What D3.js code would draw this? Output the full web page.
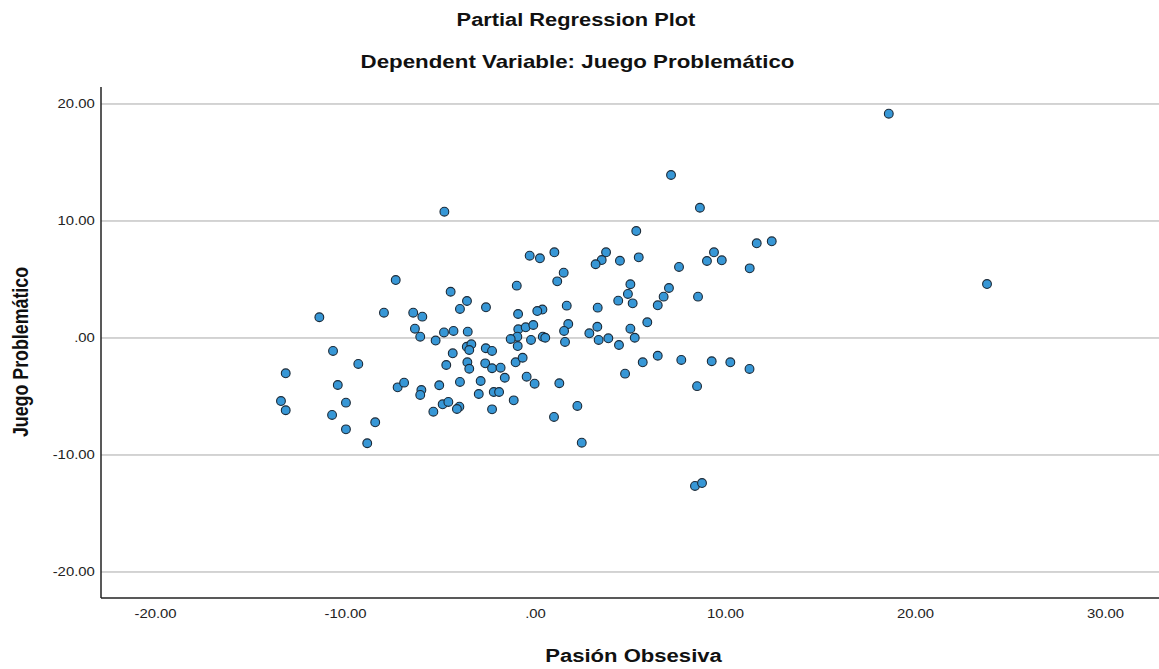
<!DOCTYPE html>
<html><head><meta charset="utf-8">
<script src="https://cdn.jsdelivr.net/npm/d3@7/dist/d3.min.js"></script>
<style>body{margin:0;background:#fff;overflow:hidden}</style>
</head><body>
<svg id="chart" width="1159" height="669"></svg>
<script>
const title = "Partial Regression Plot";
const subtitle = "Dependent Variable: Juego Problemático";
const xLabel = "Pasión Obsesiva";
const yLabel = "Juego Problemático";

const pasionObsesiva = [
 18.62, 23.79, 7.16, 8.68, -4.77, 5.33, 11.67, 12.46, 9.42, 9.05,
 9.83, 7.58, 11.30, 3.74, 3.51, 3.19, 4.47, 5.46, -0.28, 0.26,
 1.02, 1.51, 1.17, 5.02, 4.89, 4.38, 5.14, 7.05, 6.77, 6.46,
 8.58, 1.67, 3.30, 5.91, 1.75, 1.53, 3.28, 2.86, 3.35, 3.86,
 5.02, 5.25, 4.42, 1.58, 6.46, 5.67, 7.70, 9.30, 10.28, 11.29,
 4.74, 8.53, 1.28, 2.23, 2.46, 1.00, 8.42, 8.79, 0.39, 0.12,
 -0.96, -4.44, -7.33, -3.58, -3.95, -2.58, -0.89, -7.95, -6.41, -5.93,
 -11.35, -6.32, -6.04, -5.23, -4.79, -4.29, -3.54, -0.88, -0.49, -0.09,
 -0.93, -1.28, -0.21, 0.41, 0.54, -0.91, -3.59, -3.35, -3.46, -2.59,
 -2.26, -4.33, -10.63, -9.30, -4.67, -3.56, -3.46, -2.62, -2.26, -1.81,
 -1.02, -0.65, -13.12, -1.59, -0.44, -0.02, -3.95, -2.86, -5.04, -10.38,
 -7.23, -6.89, -5.98, -6.04, -2.96, -2.17, -1.89, -13.37, -13.12, -9.95,
 -10.68, -4.86, -4.56, -5.35, -3.98, -4.11, -1.12, -2.26, -8.41, -9.95,
 -8.83
];
const juegoProblematico = [
 19.13, 4.57, 13.89, 11.09, 10.75, 9.10, 8.05, 8.22, 7.28, 6.54,
 6.60, 6.03, 5.91, 7.28, 6.62, 6.26, 6.56, 6.85, 6.99, 6.77,
 7.28, 5.54, 4.80, 4.55, 3.72, 3.15, 2.92, 4.23, 3.49, 2.75,
 3.49, 2.72, 2.55, 1.30, 1.15, 0.56, 0.92, 0.36, -0.21, -0.07,
 0.75, -0.02, -0.64, -0.38, -1.56, -2.12, -1.92, -2.03, -2.12, -2.69,
 -3.09, -4.16, -3.91, -5.85, -8.99, -6.79, -12.69, -12.44, 2.39, 2.26,
 4.43, 3.91, 4.91, 3.12, 2.44, 2.58, 2.01, 2.12, 2.12, 1.78,
 1.73, 0.75, 0.07, -0.26, 0.43, 0.56, 0.50, 0.70, 0.87, 1.07,
 0.07, -0.13, -0.21, 0.07, -0.02, -0.73, -0.79, -0.58, -1.07, -0.92,
 -1.15, -1.35, -1.15, -2.26, -2.35, -2.12, -2.67, -2.21, -2.63, -2.58,
 -2.12, -1.73, -3.06, -3.44, -3.35, -3.95, -3.80, -3.72, -4.08, -4.06,
 -4.26, -3.86, -4.49, -4.91, -4.83, -4.66, -4.66, -5.43, -6.22, -5.57,
 -6.62, -5.71, -5.51, -6.34, -5.91, -6.11, -5.37, -6.14, -7.25, -7.85,
 -9.04
];

const xTickValues = [-20, -10, 0, 10, 20, 30];
const xTickLabels = ["-20.00", "-10.00", ".00", "10.00", "20.00", "30.00"];
const yTickValues = [20, 10, 0, -10, -20];
const yTickLabels = ["20.00", "10.00", ".00", "-10.00", "-20.00"];

const W = 1159, H = 669;
const plot = {left: 101, right: 1159, top: 87, bottom: 598};
const stretch = 1.24; // horizontal stretch of the reference's text
const font = "Arial, 'Liberation Sans', sans-serif";

const x = d3.scaleLinear().domain([-22.842, 32.842]).range([plot.left, plot.right]);
const y = d3.scaleLinear().domain([-22.265, 21.41]).range([plot.bottom, plot.top]);

const svg = d3.select("#chart");
svg.append("rect").attr("width", W).attr("height", H).attr("fill", "#fff");

// gridlines
const grid = svg.append("g")
  .attr("transform", `translate(${plot.left},0)`)
  .call(d3.axisLeft(y).tickValues(yTickValues).tickSize(-(plot.right - plot.left)).tickFormat(""));
grid.select(".domain").remove();
grid.selectAll("line").attr("stroke", "#a8a8a8").attr("stroke-width", 1);

// y tick labels
const yAxis = svg.append("g")
  .attr("transform", `translate(${plot.left},0)`)
  .call(d3.axisLeft(y).tickValues(yTickValues).tickSize(0).tickPadding(5)
    .tickFormat((d, i) => yTickLabels[i]));
yAxis.select(".domain").remove();
yAxis.selectAll("text").attr("font-family", font)
  .attr("font-size", 12).attr("fill", "#222").attr("transform", `scale(${stretch},1)`);

// x tick labels
const xAxis = svg.append("g")
  .attr("transform", `translate(0,${plot.bottom})`)
  .call(d3.axisBottom(x).tickValues(xTickValues).tickSize(0).tickPadding(11)
    .tickFormat((d, i) => xTickLabels[i]));
xAxis.select(".domain").remove();
xAxis.selectAll("text").attr("font-family", font)
  .attr("font-size", 12).attr("fill", "#222").attr("transform", `scale(${stretch},1)`);

// axis lines
svg.append("line").attr("x1", plot.left).attr("x2", plot.left)
  .attr("y1", plot.top).attr("y2", plot.bottom).attr("stroke", "#222").attr("stroke-width", 1.5);
svg.append("line").attr("x1", plot.left).attr("x2", plot.right)
  .attr("y1", plot.bottom).attr("y2", plot.bottom).attr("stroke", "#222").attr("stroke-width", 1.5);

// points
svg.append("g").selectAll("circle")
  .data(pasionObsesiva.map((v, i) => [v, juegoProblematico[i]]))
  .join("circle")
  .attr("cx", d => x(d[0]))
  .attr("cy", d => y(d[1]))
  .attr("r", 4.4)
  .attr("fill", "#3797d6")
  .attr("stroke", "#1b2a38")
  .attr("stroke-width", 1.1);

// titles
function label(txt, cx, cy, size, rotate) {
  svg.append("text")
    .attr("transform", `translate(${cx},${cy}) scale(${stretch},1)` + (rotate ? " rotate(-90)" : ""))
    .attr("text-anchor", "middle")
    .attr("font-family", font).attr("font-weight", "bold").attr("font-size", size).attr("fill", "#111")
    .text(txt);
}
label(title, 576, 26, 17.6);
label(subtitle, 577.5, 68, 18);
label(xLabel, 633.5, 662, 17.8);
label(yLabel, 28, 352, 17.8, true);
</script>
</body></html>
